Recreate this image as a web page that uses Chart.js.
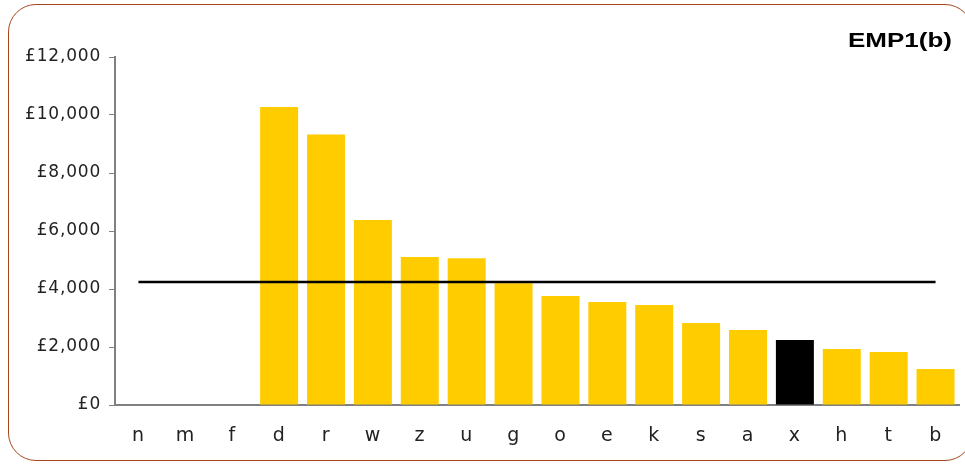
<!DOCTYPE html>
<html>
<head>
<meta charset="utf-8">
<script src="https://cdn.jsdelivr.net/npm/chart.js@4"></script>
<style>
  html, body { margin: 0; padding: 0; background: #fff; overflow: hidden; }
  #wrap { position: relative; width: 965px; height: 465px; }
  #frame {
    position: absolute; left: 8px; top: 4px; width: 965px; height: 457px;
    border: 1.5px solid #a8461c; border-radius: 28px; box-sizing: border-box;
  }
  canvas { position: absolute; left: 0; top: 0; }
</style>
</head>
<body>
<div id="wrap">
  <div id="frame"></div>
  <canvas id="chart" width="965" height="465"></canvas>
</div>
<script>
// categories and values
var categories = ['n', 'm', 'f', 'd', 'r', 'w', 'z', 'u', 'g', 'o', 'e', 'k', 's', 'a', 'x', 'h', 't', 'b'];
var costs = [0, 0, 0, 10280, 9330, 6380, 5100, 5060, 4200, 3760, 3550, 3450, 2830, 2590, 2240, 1930, 1830, 1240];
var averageCost = 4240;
var highlight = 'x';
var yTicks = [0, 2000, 4000, 6000, 8000, 10000, 12000];
var chartTitle = 'EMP1(b)';

var barColours = categories.map(function(c) { return c === highlight ? '#000000' : '#FFCC00'; });
var averageLine = categories.map(function() { return averageCost; });

// wide tick lettering like the original, and the (stretched) title in the top right corner
var cornerTitle = {
    id: 'cornerTitle',
    beforeDraw: function(chart) {
        chart.ctx.letterSpacing = '0.8px';
    },
    afterDraw: function(chart) {
        var ctx = chart.ctx;
        ctx.save();
        ctx.letterSpacing = '0px';
        ctx.font = 'bold 20px "Liberation Sans", Arial, sans-serif';
        ctx.fillStyle = '#000';
        ctx.textAlign = 'right';
        ctx.textBaseline = 'middle';
        ctx.translate(952, 41);
        ctx.scale(1.3, 1);
        ctx.fillText(chartTitle, 0, 0);
        ctx.restore();
    }
};

new Chart(document.getElementById('chart').getContext('2d'), {
    data: {
        labels: categories,
        datasets: [
            { type: 'line', data: averageLine, borderColor: '#000', borderWidth: 2.5, pointRadius: 0, order: 0 },
            { type: 'bar', data: costs, backgroundColor: barColours, borderWidth: 0,
              categoryPercentage: 1, barPercentage: 0.81, order: 1 }
        ]
    },
    options: {
        responsive: false,
        animation: false,
        layout: { padding: { top: 57, right: 6, left: 0, bottom: 0 } },
        plugins: { legend: { display: false }, tooltip: { enabled: false } },
        scales: {
            x: {
                offset: true,
                grid: { display: false, drawTicks: false },
                border: { color: '#808080', width: 2 },
                ticks: { color: '#222', padding: 20, font: { family: 'DejaVu Sans', size: 19 } },
                afterFit: function(s) { s.height = 60; }
            },
            y: {
                min: 0, max: 12000,
                afterBuildTicks: function(s) { s.ticks = yTicks.map(function(v) { return { value: v }; }); },
                grid: { drawOnChartArea: false, tickLength: 6, color: '#808080', lineWidth: 1 },
                border: { color: '#808080', width: 2 },
                ticks: {
                    color: '#222', padding: 8, font: { family: 'DejaVu Sans', size: 17 },
                    callback: function(v) { return '£' + v.toLocaleString('en-GB'); }
                },
                afterFit: function(s) { s.width = 115; }
            }
        }
    },
    plugins: [cornerTitle]
});
</script>
</body>
</html>
